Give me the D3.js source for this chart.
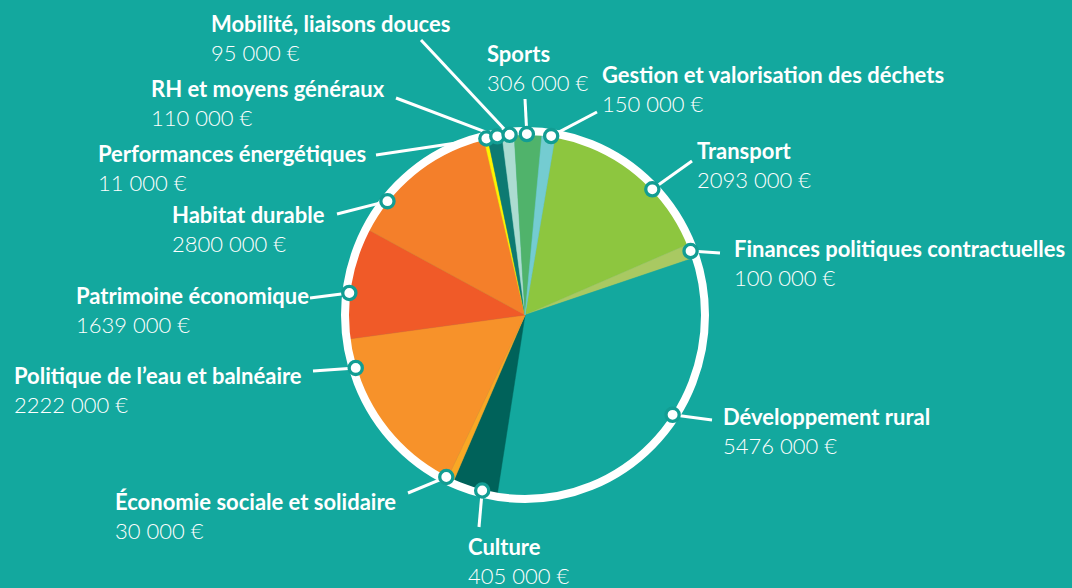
<!DOCTYPE html>
<meta charset="utf-8">
<style>
body { margin: 0; background: #13a89e; }
svg { display: block; }
.title { font-family: Lato, "Open Sans", sans-serif; font-weight: 700; font-size: 22px; fill: #fff; }
.amount { font-family: Lato, "Open Sans", sans-serif; font-weight: 300; font-size: 22px; fill: #fff; }
.leader { stroke: #fff; stroke-width: 3px; fill: none; }
</style>
<svg width="1072" height="588"></svg>
<script src="https://d3js.org/d3.v7.min.js"></script>
<script>
// categories, clockwise from the top right
var categories = ["Transport", "Finances politiques contractuelles", "Développement rural", "Culture",
  "Économie sociale et solidaire", "Politique de l\u2019eau et balnéaire", "Patrimoine économique",
  "Habitat durable", "Performances énergétiques", "RH et moyens généraux",
  "Mobilité, liaisons douces", "Sports", "Gestion et valorisation des déchets"];

// amounts printed on the chart (€)
var amounts = [2093000, 100000, 5476000, 405000, 30000, 2222000, 1639000, 2800000, 11000, 110000, 95000, 306000, 150000];

// share of the circle each slice takes as drawn (%)
var sliceShares = [15.9, 1.3, 32.6, 4.1, 0.6, 15.7, 9.9, 13.5, 0.35, 1.3, 1.1, 2.5, 1.2];

var colors = ["#8dc63f", "#a9c962", "#13a89e", "#00625a", "#f9a825", "#f7922a", "#f05a28",
  "#f47f2a", "#fff200", "#0d7a72", "#acdcd1", "#50b36b", "#74ccd1"];

// layout of the callouts: dot angle on the ring, label position, leader end
var callouts = [
  {a: 46,    x: 697, y: 159, lx: 692, ly: 161},
  {a: 69.3,  x: 734, y: 257, lx: 720, ly: 253},
  {a: 123.5, x: 723, y: 425, lx: 712, ly: 420},
  {a: 194,   x: 468, y: 555, lx: 479, ly: 527},
  {a: 206.4, x: 115, y: 510, lx: 408, ly: 493},
  {a: 253,   x: 14,  y: 384, lx: 313, ly: 371},
  {a: 277,   x: 76,  y: 304, lx: 310, ly: 298},
  {a: 309,   x: 172, y: 223, lx: 337, ly: 214},
  {a: -12.6, x: 98,  y: 162, lx: 376, ly: 155},
  {a: -9,    x: 151, y: 97,  lx: 396, ly: 98},
  {a: -5,    x: 211, y: 32,  lx: 421, ly: 40},
  {a: 0.6,   x: 487, y: 62,  lx: 525, ly: 99},
  {a: 8.5,   x: 602, y: 83,  lx: 597, ly: 112}
];

var svg = d3.select("svg"),
    cx = 525, cy = 315,
    radius = 180,
    ky = 1.022,           // the drawing is slightly taller than wide
    dotR = 177;

svg.append("rect").attr("width", 1072).attr("height", 588).attr("fill", "#13a89e");

var rows = categories.map(function(c, i) {
  return {name: c, amount: amounts[i], share: sliceShares[i], color: colors[i], co: callouts[i]};
});

var startAngle = 9.8 * Math.PI / 180;
var pie = d3.pie()
    .sort(null)
    .value(function(d) { return d.share; })
    .startAngle(startAngle)
    .endAngle(startAngle + 2 * Math.PI);

var arc = d3.arc().innerRadius(0).outerRadius(radius);

var g = svg.append("g")
    .attr("transform", "translate(" + cx + "," + cy + ") scale(1," + ky + ")");

g.selectAll("path.slice")
    .data(pie(rows))
  .enter().append("path")
    .attr("class", "slice")
    .attr("d", arc)
    .attr("fill", function(d) { return d.data.color; })
    .attr("stroke", function(d) { return d.data.color; })
    .attr("stroke-width", 0.5);

// white ring
g.append("circle")
    .attr("r", radius)
    .attr("fill", "none")
    .attr("stroke", "#fff")
    .attr("stroke-width", 8)
    .attr("vector-effect", "non-scaling-stroke");

function dotPos(d) {
  var a = d.co.a * Math.PI / 180;
  return [cx + dotR * Math.sin(a), cy - dotR * ky * Math.cos(a)];
}

// leader lines
svg.append("g").selectAll("line")
    .data(rows)
  .enter().append("line")
    .attr("class", "leader")
    .attr("x1", function(d) { return dotPos(d)[0]; })
    .attr("y1", function(d) { return dotPos(d)[1]; })
    .attr("x2", function(d) { return d.co.lx; })
    .attr("y2", function(d) { return d.co.ly; });

// dots
svg.append("g").selectAll("circle")
    .data(rows)
  .enter().append("circle")
    .attr("cx", function(d) { return dotPos(d)[0]; })
    .attr("cy", function(d) { return dotPos(d)[1]; })
    .attr("r", 6.6)
    .attr("fill", "#fff")
    .attr("stroke", "#129d93")
    .attr("stroke-width", 3.3);

var fmt = function(v) {
  // "2093 000 €" style: thousands group only for the last three digits
  var s = String(v);
  var head = s.slice(0, s.length - 3), tail = s.slice(-3);
  return head + " " + tail + " \u20ac";
};

var labels = svg.append("g").selectAll("g")
    .data(rows)
  .enter().append("g");

labels.append("text")
    .attr("class", "title")
    .attr("x", function(d) { return d.co.x; })
    .attr("y", function(d) { return d.co.y; })
    .text(function(d) { return d.name; });

labels.append("text")
    .attr("class", "amount")
    .attr("x", function(d) { return d.co.x; })
    .attr("y", function(d) { return d.co.y + 28.5; })
    .text(function(d) { return fmt(d.amount); });
</script>
